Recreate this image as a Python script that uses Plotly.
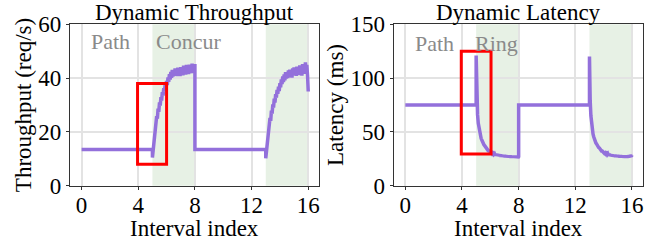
import numpy as np
import plotly.graph_objects as go

# ---------------- data ----------------
xticks = [0, 4, 8, 12, 16]
base_tp = 13.5
base_lat = 75.0
step = 0.05
segA_start, segB_start = 5.0, 13.0

tp_segA = [10.5, 12.8, 16.5, 18.9, 21.5, 23.0, 25.8, 24.9, 28.6, 27.4, 31.0, 29.8, 32.9, 31.6, 34.8, 33.5,
           36.2, 35.0, 37.6, 36.1, 38.9, 37.4, 40.2, 38.6, 41.5, 39.4, 42.3, 40.1, 43.0, 40.6, 42.8, 40.9,
           43.6, 41.2, 42.9, 40.8, 43.9, 41.5, 43.2, 40.7, 44.1, 41.6, 43.5, 41.0, 44.6, 42.0, 43.8, 41.3,
           44.9, 42.2, 43.7, 41.5, 45.0, 42.4, 44.3, 41.8, 45.4, 42.6, 44.8, 42.9, 45.2]
tp_segB = [10.2, 12.5, 16.0, 18.4, 21.0, 22.6, 25.2, 24.1, 27.9, 26.8, 30.2, 29.0, 32.4, 30.9, 34.0, 32.7,
           35.6, 34.1, 36.8, 35.2, 38.1, 36.6, 39.5, 37.8, 40.6, 38.5, 41.4, 39.2, 42.2, 39.8, 41.9, 40.0,
           42.8, 40.3, 43.1, 40.6, 42.5, 40.2, 43.6, 41.0, 44.0, 41.4, 43.2, 40.8, 44.3, 41.7, 43.5, 41.1,
           44.7, 42.0, 43.9, 40.9, 45.2, 42.3, 44.6, 41.6, 45.8, 42.7, 44.9, 41.0, 35.0]
lat_segA = [121, 80, 66, 58, 53, 49, 46.5, 44, 42.5, 40.5, 39.5, 38, 37.2, 36, 35.4, 34.2,
            33.8, 32.6, 32.4, 31.3, 31.5, 30.4, 30.8, 29.6, 30.2, 29.0, 29.8, 28.4, 29.5, 28.0, 29.2, 27.7,
            28.9, 27.5, 28.7, 27.2, 28.6, 27.0, 28.4, 26.8, 28.3, 26.7, 28.1, 26.5, 28.0, 26.4, 28.0, 26.3,
            27.9, 26.2, 27.8, 26.1, 27.8, 26.0, 27.7, 26.0, 27.6, 25.9, 27.6, 26.0, 27.0]
lat_segB = [120, 79, 65, 57, 52, 48, 45.5, 43, 41.8, 39.8, 38.9, 37.3, 36.8, 35.4, 35.0, 33.7,
            33.5, 32.2, 32.2, 31.0, 31.3, 30.1, 30.6, 29.4, 30.0, 28.8, 29.7, 28.3, 29.4, 27.9, 29.1, 27.6,
            28.9, 27.3, 28.7, 27.1, 28.6, 26.9, 28.4, 26.7, 28.3, 26.6, 28.2, 26.4, 28.1, 26.3, 28.0, 26.2,
            27.9, 26.1, 27.9, 26.1, 27.8, 26.0, 28.0, 26.3, 28.2, 26.6, 28.5, 27.0, 28.5]

shade_regions = [(5, 8), (13, 16)]
tp_labels = [("Path", 2.05, 53.5), ("Concur", 7.55, 53.5)]
lat_labels = [("Path", 2.08, 132.5), ("Ring", 6.42, 132.5)]
tp_box = (3.95, 6.0, 8.0, 38.0)
lat_box = (3.95, 6.05, 29.5, 125.0)

# ---------------- build series ----------------
def build(base, segA, segB):
    xa = list(np.round(segA_start + step * np.arange(len(segA)), 3))
    xb = list(np.round(segB_start + step * np.arange(len(segB)), 3))
    xs = [0.0, segA_start] + xa + [xa[-1], segB_start] + xb
    ys = [base, base] + segA + [base, base] + segB
    return xs, ys

tpx, tpy = build(base_tp, tp_segA, tp_segB)
ltx, lty = build(base_lat, lat_segA, lat_segB)

PURPLE = "#9370DB"
FONT = "Liberation Serif"
TICK_SIZE = 23
TITLE_SIZE = 23
LABEL_SIZE = 22

fig = go.Figure()
fig.add_trace(go.Scatter(x=tpx, y=tpy, mode="lines", line=dict(color=PURPLE, width=3.5),
                         xaxis="x", yaxis="y", showlegend=False))
fig.add_trace(go.Scatter(x=ltx, y=lty, mode="lines", line=dict(color=PURPLE, width=3.5),
                         xaxis="x2", yaxis="y2", showlegend=False))

shapes = []
for xr, yr in (("x", "y"), ("x2", "y2")):
    for a, b in shade_regions:
        shapes.append(dict(type="rect", xref=xr, yref=yr + " domain", x0=a, x1=b, y0=0, y1=1,
                           fillcolor="rgba(120,180,110,0.18)", line=dict(width=0), layer="below"))
for (x0, x1, y0, y1), xr, yr in ((tp_box, "x", "y"), (lat_box, "x2", "y2")):
    shapes.append(dict(type="rect", xref=xr, yref=yr, x0=x0, x1=x1, y0=y0, y1=y1,
                       line=dict(color="red", width=3), fillcolor="rgba(0,0,0,0)", layer="above"))

annotations = []
for txt, x, y in tp_labels:
    annotations.append(dict(text=txt, x=x, y=y, xref="x", yref="y", showarrow=False,
                            font=dict(family=FONT, size=LABEL_SIZE, color="#8a8a8a")))
for txt, x, y in lat_labels:
    annotations.append(dict(text=txt, x=x, y=y, xref="x2", yref="y2", showarrow=False,
                            font=dict(family=FONT, size=LABEL_SIZE, color="#8a8a8a")))
for txt, xc in (("Dynamic Throughput", 0.2975), ("Dynamic Latency", 0.7925)):
    annotations.append(dict(text=txt, x=xc, y=1 - 12 / 245, xref="paper", yref="paper",
                            xanchor="center", yanchor="middle", showarrow=False,
                            font=dict(family=FONT, size=23, color="black")))
for xc in (0.2975, 0.7925):
    annotations.append(dict(text="Interval index", x=xc, y=1 - 228 / 245, xref="paper", yref="paper",
                            xanchor="center", yanchor="middle", showarrow=False,
                            font=dict(family=FONT, size=TITLE_SIZE, color="black")))

axis_common = dict(showline=True, linecolor="#333", linewidth=1.2, mirror=True,
                   showgrid=True, gridcolor="#e3e3e3", gridwidth=1.5, zeroline=False,
                   ticks="outside", ticklen=3, tickcolor="#333", automargin=False,
                   tickfont=dict(family=FONT, size=TICK_SIZE, color="black"))
xcommon = dict(axis_common, range=[-0.82, 16.77], tickvals=xticks, ticklabelstandoff=-4)

fig.update_layout(
    width=654, height=245, margin=dict(l=0, r=0, t=0, b=0),
    paper_bgcolor="white", plot_bgcolor="white",
    xaxis=dict(xcommon, domain=[0.107, 0.488], anchor="y"),
    yaxis=dict(axis_common, domain=[0.242, 0.901], range=[0, 60], tickvals=[0, 20, 40, 60], anchor="x",
               title=dict(text="Throughput (req/s)", font=dict(family=FONT, size=TITLE_SIZE, color="black"), standoff=0)),
    xaxis2=dict(xcommon, domain=[0.602, 0.983], anchor="y2"),
    yaxis2=dict(axis_common, domain=[0.242, 0.901], range=[0, 150], tickvals=[0, 50, 100, 150], anchor="x2",
                title=dict(text="Latency (ms)", font=dict(family=FONT, size=TITLE_SIZE, color="black"), standoff=0)),
    shapes=shapes, annotations=annotations,
)

fig.write_html("out.html", config={"displayModeBar": False},
               post_script="document.body.style.margin='0';")
